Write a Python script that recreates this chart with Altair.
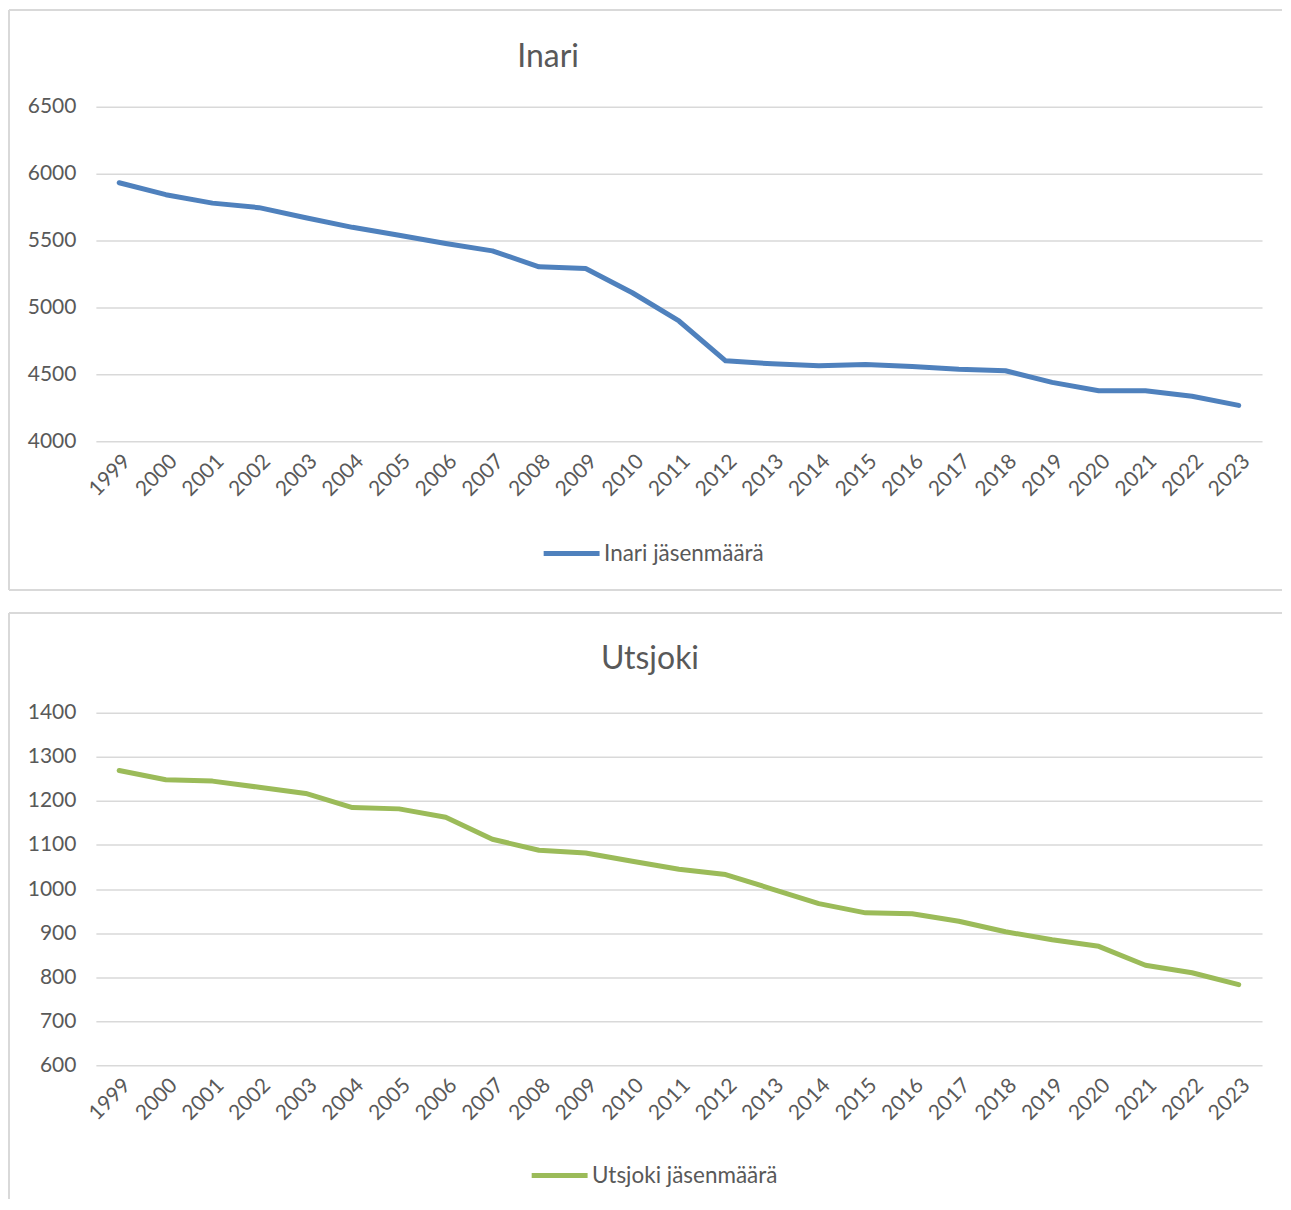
import altair as alt
import pandas as pd

years = ["1999", "2000", "2001", "2002", "2003", "2004", "2005", "2006", "2007",
         "2008", "2009", "2010", "2011", "2012", "2013", "2014", "2015", "2016",
         "2017", "2018", "2019", "2020", "2021", "2022", "2023"]

inari = [5932, 5843, 5780, 5746, 5671, 5599, 5540, 5478, 5423, 5304, 5291, 5110,
         4899, 4601, 4579, 4564, 4574, 4559, 4539, 4527, 4440, 4378, 4378, 4336, 4268]

utsjoki = [1269, 1248, 1245, 1231, 1217, 1185, 1182, 1163, 1113, 1088, 1082, 1063,
           1045, 1033, 1000, 967, 946, 944, 927, 903, 885, 870, 827, 810, 783]

inari_ticks = [4000, 4500, 5000, 5500, 6000, 6500]
utsjoki_ticks = [600, 700, 800, 900, 1000, 1100, 1200, 1300, 1400]

FONT = "Lato"
TXT = "#595959"
GRID = "#D9D9D9"
W = 1168


def panel(values, name, color, title, title_x, title_y, domain, ticks, height,
          b_top, b_bottom, draw_bottom, leg_x, leg_y):
    df = pd.DataFrame({"Vuosi": years, "Jäsenmäärä": values, "Sarja": name})
    line = alt.Chart(df).mark_line(
        strokeWidth=5, strokeCap="round", strokeJoin="round"
    ).encode(
        x=alt.X("Vuosi:O", sort=years,
                axis=alt.Axis(title=None, labelAngle=-45, labelFontSize=21,
                              labelColor=TXT, labelFont=FONT, domain=False,
                              ticks=False, labelPadding=9, grid=False)),
        y=alt.Y("Jäsenmäärä:Q",
                scale=alt.Scale(domain=domain, nice=False, zero=False),
                axis=alt.Axis(title=None, values=ticks, grid=True, format="d",
                              gridColor=GRID, gridWidth=1.5, domain=False,
                              ticks=False, labelPadding=20, labelFontSize=21,
                              labelColor=TXT, labelFont=FONT)),
        color=alt.Color("Sarja:N",
                        scale=alt.Scale(domain=[name], range=[color]),
                        legend=alt.Legend(title=None, orient="none",
                                          legendX=leg_x, legendY=leg_y,
                                          symbolType="stroke", symbolSize=3136,
                                          symbolStrokeWidth=5,
                                          labelFontSize=22.5, labelColor=TXT,
                                          labelFont=FONT, padding=0,
                                          labelOffset=2, labelLimit=0)),
    )
    frame = pd.DataFrame({"k": [0]})
    top_rule = alt.Chart(frame).mark_rule(color=GRID, strokeWidth=2).encode(
        x=alt.value(-87), x2=alt.value(1188), y=alt.value(b_top))
    left_rule = alt.Chart(frame).mark_rule(color=GRID, strokeWidth=2).encode(
        x=alt.value(-87), y=alt.value(b_top), y2=alt.value(b_bottom))
    title_text = alt.Chart(pd.DataFrame({"t": [title]})).mark_text(
        font=FONT, fontSize=32, color=TXT, align="center", baseline="alphabetic"
    ).encode(x=alt.value(title_x), y=alt.value(title_y), text="t:N")
    layers = [top_rule, left_rule]
    if draw_bottom:
        bottom_rule = alt.Chart(frame).mark_rule(color=GRID, strokeWidth=2).encode(
            x=alt.value(-87), x2=alt.value(1188), y=alt.value(b_bottom))
        layers.append(bottom_rule)
    layers += [title_text, line]
    return alt.layer(*layers).properties(width=W, height=height)


top = panel(inari, "Inari jäsenmäärä", "#4F81BD", "Inari", 453, -40,
            [4000, 6500], inari_ticks, 335, -97, 484, True, 446, 417)
bottom = panel(utsjoki, "Utsjoki jäsenmäärä", "#9BBB59", "Utsjoki", 555, -44,
               [600, 1400], utsjoki_ticks, 353, -100, 487, False, 434, 433)

chart = alt.vconcat(top, bottom, spacing=21).properties(
    padding=0
).configure_view(stroke=None).resolve_scale(color="independent", y="independent")

chart.save("out.html", embed_options={"renderer": "svg", "actions": False})
